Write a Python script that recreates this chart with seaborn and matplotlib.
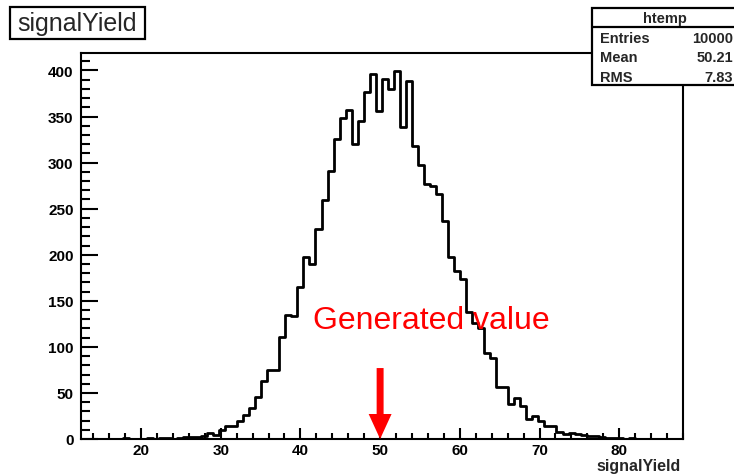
import numpy as np
import pandas as pd
import matplotlib
matplotlib.use("Agg")
import matplotlib.pyplot as plt
from matplotlib.patches import Rectangle
from matplotlib.lines import Line2D
import seaborn as sns

# ---------------- data ----------------
x_min, x_max = 12.41, 88.0
n_bins = 100
counts = [0, 0, 0, 0, 0, 0, 0, 1, 0, 0,
          0, 1, 0, 1, 1, 0, 1, 2, 2, 2,
          3, 7, 4, 10, 14, 14, 20, 26, 34, 46,
          63, 75, 75, 111, 135, 133, 165, 198, 190, 228,
          259, 291, 326, 348, 357, 320, 345, 377, 396, 356,
          391, 380, 399, 339, 389, 318, 297, 277, 275, 266,
          237, 197, 182, 174, 138, 126, 120, 93, 88, 56,
          56, 38, 45, 36, 22, 25, 20, 14, 14, 8,
          5, 7, 5, 4, 3, 3, 2, 1, 1, 1,
          0, 1, 0, 0, 0, 0, 0, 0, 0, 0]
x_major_ticks = [20, 30, 40, 50, 60, 70, 80]
y_major_ticks = [0, 50, 100, 150, 200, 250, 300, 350, 400]
title_text = "signalYield"
x_title = "signalYield"
stats_name = "htemp"
stats_labels = ["Entries", "Mean", "RMS"]
stats_values = ["10000", "50.21", "7.83"]
generated_value = 50
annotation_text = "Generated value"

# ---------------- style ----------------
sns.set_style("white")
plt.rcParams["font.family"] = ["Liberation Sans", "DejaVu Sans"]

W, H = 734, 477
fig = plt.figure(figsize=(W / 100, H / 100), dpi=100)

def fx(px):
    return px / W

def fy(py):
    return 1 - py / H

ax = fig.add_axes([fx(80.5), fy(440), fx(683) - fx(80.5), fy(54) - fy(440)])

df = pd.DataFrame({"signalYield": x_min + (np.arange(n_bins) + 0.5) * (x_max - x_min) / n_bins,
                   "count": counts})
sns.histplot(data=df, x="signalYield", weights="count", bins=n_bins,
             binrange=(x_min, x_max), element="step",
             fill=False, color="black", linewidth=2.0, ax=ax)

ax.set_xlim(x_min, x_max)
ax.set_ylim(0, 1.05 * max(counts))
ax.set_xlabel("")
ax.set_ylabel("")

ax.set_xticks(x_major_ticks)
ax.set_xticks(np.arange(14, 89, 2), minor=True)
ax.set_yticks(y_major_ticks)
ax.set_yticks(np.arange(0, 420, 10), minor=True)

for lab in ax.get_xticklabels() + ax.get_yticklabels():
    lab.set_fontweight("bold")
ax.tick_params(axis="both", which="both", direction="in", top=False, right=False,
               bottom=True, left=True, width=1.5, colors="black", labelsize=11)
ax.tick_params(axis="y", which="major", length=12.5, pad=5)
ax.tick_params(axis="y", which="minor", length=6.3)
ax.tick_params(axis="x", which="major", length=8, pad=3)
ax.tick_params(axis="x", which="minor", length=4)
for sp in ax.spines.values():
    sp.set_linewidth(1.5)
    sp.set_color("black")

# generated value annotation
ax.annotate("", xy=(generated_value, 0), xytext=(generated_value, 77),
            arrowprops=dict(arrowstyle="simple,head_length=1.8,head_width=1.65,tail_width=0.5",
                            facecolor="red", edgecolor="none", lw=0, mutation_scale=10,
                            shrinkA=0, shrinkB=0))
fig.text(fx(431), fy(321), annotation_text, color="red", fontsize=23,
         ha="center", va="center")

# x-axis title
fig.text(fx(681), fy(467), x_title, fontsize=11.5, fontweight="bold",
         ha="right", va="center")

# title box
fig.patches.append(Rectangle((fx(10), fy(40)), fx(145) - fx(10), fy(8) - fy(40),
                             transform=fig.transFigure, facecolor="white",
                             edgecolor="black", linewidth=1.6, zorder=5))
fig.text(fx(77.5), fy(24.5), title_text, fontsize=18, ha="center", va="center",
         zorder=6)

# stats box
fig.patches.append(Rectangle((fx(591.7), fy(86)), fx(740) - fx(591.7), fy(9.3) - fy(86),
                             transform=fig.transFigure, facecolor="white",
                             edgecolor="black", linewidth=1.6, zorder=5))
fig.lines.append(Line2D([fx(591.7), fx(740)], [fy(28), fy(28)],
                        transform=fig.transFigure, color="black", lw=1.6, zorder=6))
fig.text(fx(665), fy(18.5), stats_name, fontsize=10.5, fontweight="bold",
         ha="center", va="center", zorder=7)
row_y = [39, 57.5, 77.5]
for lab, val, yy in zip(stats_labels, stats_values, row_y):
    fig.text(fx(600), fy(yy), lab, fontsize=10.5, fontweight="bold",
             ha="left", va="center", zorder=7)
    fig.text(fx(733), fy(yy), val, fontsize=10.5, fontweight="bold",
             ha="right", va="center", zorder=7)

fig.savefig("out.png", dpi=100, facecolor="white")
